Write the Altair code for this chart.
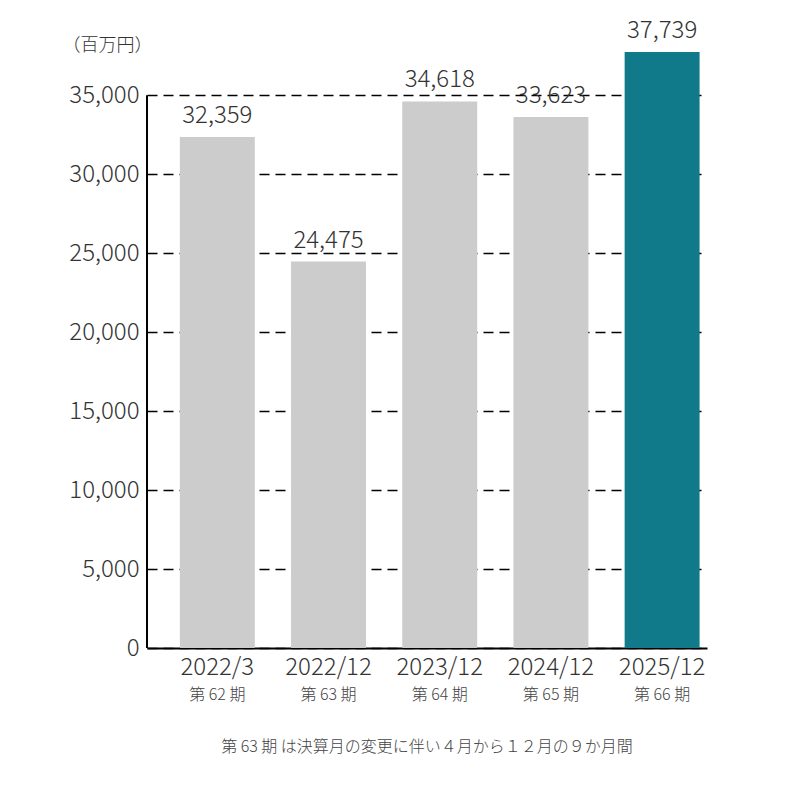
import altair as alt
import pandas as pd

periods = ["2022/3", "2022/12", "2023/12", "2024/12", "2025/12"]
terms = ["第 62 期", "第 63 期", "第 64 期", "第 65 期", "第 66 期"]
values = [32359, 24475, 34618, 33623, 37739]
highlight = [False, False, False, False, True]
y_ticks = [0, 5000, 10000, 15000, 20000, 25000, 30000, 35000]
unit_label = "（百万円）"
footnote = "第 63 期 は決算月の変更に伴い４月から１２月の９か月間"

df = pd.DataFrame({"period": periods, "term": terms, "value": values, "hl": highlight})
df["label"] = df["value"].map(lambda v: f"{v:,}")

W, H = 560, 600
FONT = "Noto Sans CJK JP Light, Noto Sans CJK JP"

xscale = alt.Scale(domain=periods, paddingInner=0.326, paddingOuter=0.181, align=0.816)
yscale = alt.Scale(domain=[0, 38000], nice=False)

base = alt.Chart(df)

bars = base.mark_bar().encode(
    x=alt.X("period:N", scale=xscale, sort=periods,
            axis=alt.Axis(title=None, labelAngle=0, labelFontSize=24, labelFont=FONT,
                          labelFontWeight=300, labelColor="#333333", ticks=False,
                          labelPadding=7, domainColor="#000000", domainWidth=2)),
    y=alt.Y("value:Q", scale=yscale,
            axis=alt.Axis(values=y_ticks, format=",d", domain=False, ticks=False,
                          labelFontSize=24, labelFont=FONT, labelFontWeight=300,
                          labelColor="#333333", labelPadding=8,
                          grid=True, gridDash=[10, 6], gridColor="#000000", gridWidth=1.5,
                          title=unit_label, titleAngle=0, titleX=-85, titleY=-3,
                          titleBaseline="middle",
                          titleFont=FONT, titleFontSize=18, titleFontWeight=300,
                          titleColor="#333333", titleAlign="left")),
    color=alt.Color("hl:N", scale=alt.Scale(domain=[False, True], range=["#cccccc", "#107a8b"]),
                    legend=None),
)

labels = base.mark_text(baseline="bottom", dy=-9, fontSize=24, font=FONT,
                        fontWeight=300, color="#333333").encode(
    x=alt.X("period:N", scale=xscale, sort=periods),
    y=alt.Y("value:Q", scale=yscale),
    text="label:N",
)

term_text = base.mark_text(baseline="middle", fontSize=16, font=FONT,
                           fontWeight=300, color="#444444").encode(
    x=alt.X("period:N", scale=xscale, sort=periods),
    y=alt.value(H + 47),
    text="term:N",
)

axis_line = alt.Chart(pd.DataFrame({"y0": [0], "y1": [35000]})).mark_rule(
    color="#000000", strokeWidth=2).encode(
    x=alt.value(0),
    y=alt.Y("y0:Q", scale=yscale),
    y2="y1:Q",
)

chart = alt.layer(bars, labels, term_text, axis_line).properties(
    width=W, height=H,
    background="white",
    title=alt.TitleParams(footnote, orient="bottom", fontSize=16, font=FONT,
                          fontWeight=300, color="#444444", offset=36, anchor="middle"),
    autosize=alt.AutoSizeParams(type="none"),
    padding={"left": 139, "top": 40, "right": 80, "bottom": 140},
).configure_view(strokeWidth=0, stroke="transparent")

chart.save("out.html", embed_options={"renderer": "svg", "actions": False})
